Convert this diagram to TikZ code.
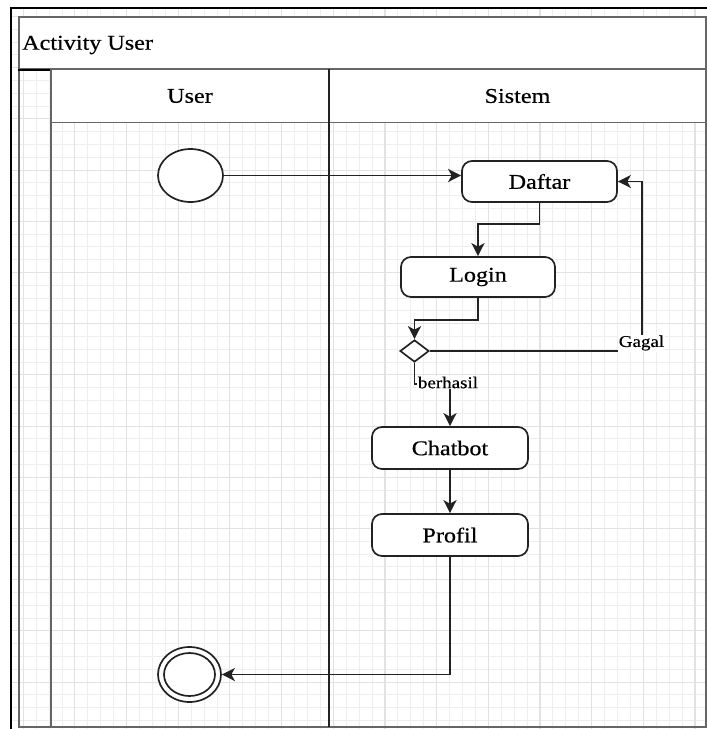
\documentclass[tikz,border=0pt]{standalone}
\usepackage{fontspec}
\setmainfont{Liberation Serif}[FakeStretch=1.15,FakeBold=0.5]
\usetikzlibrary{shapes.geometric,arrows.meta}

\definecolor{gridminor}{HTML}{EEEEEE}
\definecolor{gridmajor}{HTML}{E2E2E2}
\definecolor{linedark}{HTML}{222222}
\definecolor{lanegray}{HTML}{666666}

\begin{document}
\begin{tikzpicture}[x=1pt,y=-1pt,
  minorline/.style={draw=gridminor,line width=0.9pt},
  majorline/.style={draw=gridmajor,line width=1.1pt},
  lanehead/.style={draw=lanegray,line width=1.8pt,fill=white,inner sep=0pt,
    font=\fontsize{21}{24}\selectfont},
  actbox/.style={draw=linedark,line width=1.7pt,rounded corners=10pt,fill=white,
    inner sep=0pt,minimum width=155pt,minimum height=41pt,
    font=\fontsize{21}{24}\selectfont},
  startnode/.style={ellipse,draw=linedark,line width=1.7pt,fill=white,inner sep=0pt},
  decision/.style={diamond,draw=linedark,line width=1.7pt,fill=white,inner sep=0pt,
    minimum width=29pt,minimum height=22pt},
  flow/.style={draw=linedark,line width=1.8pt,
    -{Stealth[length=13pt,width=13pt,inset=3.5pt]}},
  guard/.style={fill=white,inner sep=1pt,font=\fontsize{16.5}{18}\selectfont},
]
\useasboundingbox (0,0) rectangle (707,729);

% background grid inside the outer frame
\begin{scope}
  \clip (11,8) rectangle (707,729);
  \foreach \i in {0,...,55} {\draw[minorline] ({10.3+12.92*\i},0) -- ++(0,729);}
  \foreach \i in {0,...,57} {\draw[minorline] (0,{3.7+12.8*\i}) -- ++(707,0);}
  \foreach \i in {0,...,13} {\draw[majorline] ({23.2+51.68*\i},0) -- ++(0,729);}
  \foreach \i in {0,...,14} {\draw[majorline] (0,{16.5+51.2*\i}) -- ++(707,0);}
\end{scope}

% outer frame
\draw[black,line width=1.8pt] (11,729) -- (11,8) -- (707,8);

% pool with its title bar
\draw[lanegray,line width=2.4pt] (19,17) rectangle (706,727);
\node[draw=lanegray,line width=2.2pt,fill=white,minimum width=687pt,minimum height=52pt,
  inner sep=0pt] (poolhead) at (362.5,43) {};
\draw[black,line width=2.2pt] (poolhead.south west) -- (poolhead.south east);
\node[anchor=west,inner sep=0pt,font=\fontsize{21}{24}\selectfont] (pooltitle) at (22,45) {Activity User};

% swimlanes
\draw[lanegray,line width=2pt] (51,69) -- (51,727);
\node[lanehead,minimum width=278pt,minimum height=53pt] (userlane) at (190,96) {User};
\node[lanehead,minimum width=377pt,minimum height=53pt] (sistemlane) at (517.5,96) {Sistem};
\draw[linedark,line width=2.4pt] (329,69) -- (329,727);

% activities
\node[startnode,minimum width=65pt,minimum height=53pt] (start) at (190.5,175.5) {};
\node[actbox] (daftar) at (539.5,181.5) {Daftar};
\node[actbox,minimum width=154pt,minimum height=40pt] (login) at (478,277) {Login};
\node[decision] (cek) at (414.5,351) {};
\node[actbox,minimum width=156pt,minimum height=42pt] (chatbot) at (450,448) {Chatbot};
\node[actbox,minimum width=156pt,minimum height=42pt] (profil) at (450,535) {Profil};
\node[startnode,minimum width=63pt,minimum height=55pt] (finish) at (189.5,674.5) {};
\node[startnode,minimum width=51pt,minimum height=43pt] (finishin) at (189.5,674.5) {};

\coordinate (gagalx) at (642,0);

% control flow
\draw[flow] (start.east) -- (start.east -| daftar.west);
\draw[flow] (daftar.south) -- ++(0,21.5) -| (login.north);
\draw[flow] (login.south) -- ++(0,22) -| (cek.north);
\draw[flow] (cek.east) -- (cek.east -| gagalx) |- (daftar.east);
\draw[flow] (cek.south) -- ++(0,21) -| (chatbot.north);
\draw[flow] (chatbot.south) -- (profil.north);
\draw[flow] (profil.south) |- (finish.east);

% guard labels
\node[guard] (gagal) at (641.5,343) {Gagal};
\node[guard] (berhasil) at (448,382.5) {berhasil};
\end{tikzpicture}
\end{document}
